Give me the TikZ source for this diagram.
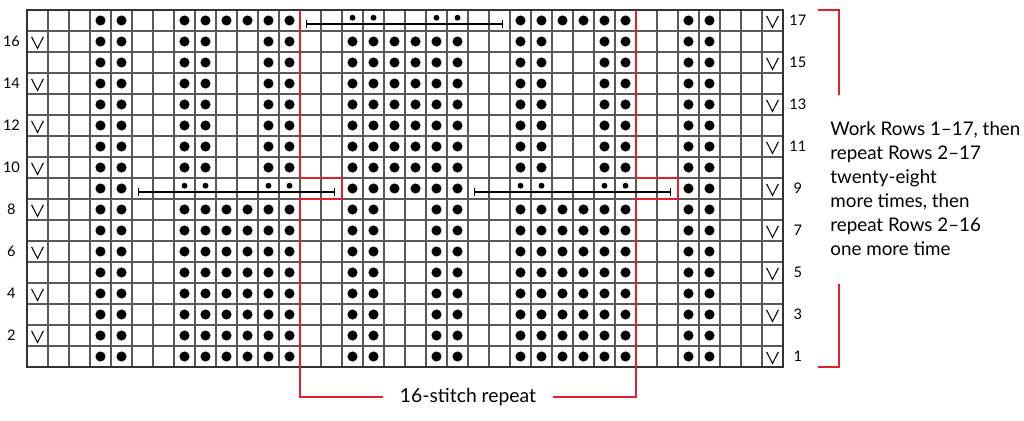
\documentclass[tikz,border=0pt]{standalone}
\usepackage{fontspec}
\setmainfont{Lato}
\usetikzlibrary{arrows.meta, positioning}
\usepackage{xcolor}
\definecolor{repred}{RGB}{218,37,48}

\begin{document}
\begin{tikzpicture}[x=0.42cm, y=0.42cm,
    gridline/.style={draw=black!65, line width=0.6pt},
    border/.style={draw=black!80, line width=1.1pt},
    bigdot/.style={fill=black},
    float/.style={line width=0.6pt, {Bar[width=1.6mm]}-{Bar[width=1.6mm]}},
    slip/.style={line width=0.6pt},
    redline/.style={draw=repred, line width=1.3pt},
    rownum/.style={font=\fontsize{8.3}{9}\selectfont, inner sep=0pt}]
  \useasboundingbox (-1.2857,-2.5238) rectangle (47.476,17.476);
  \draw[gridline, step={(1,1)}] (0,0) grid (36,17);
  \draw[border] (0,0) rectangle (36,17);
  % purl columns at both edges
  \foreach \c in {4,5,32,33}
    \foreach \r in {1,...,17}
      \fill[bigdot] (\c-0.5,\r-0.5) circle (0.24);
  % outer blocks
  \foreach \b in {8,24} {
    \foreach \d in {0,1,4,5} {
      \foreach \r in {1,...,8,10,11,...,17}
        \fill[bigdot] (\b+\d-0.5,\r-0.5) circle (0.24);
      \fill[bigdot] (\b+\d-0.5,8.633) circle (0.14);
    }
    \foreach \d in {2,3}
      \foreach \r in {1,...,8,17}
        \fill[bigdot] (\b+\d-0.5,\r-0.5) circle (0.24);
  }
  % middle block
  \foreach \d in {0,1,4,5} {
    \foreach \r in {1,...,16}
      \fill[bigdot] (16+\d-0.5,\r-0.5) circle (0.24);
    \fill[bigdot] (16+\d-0.5,16.633) circle (0.14);
  }
  \foreach \d in {2,3}
    \foreach \r in {9,...,16}
      \fill[bigdot] (16+\d-0.5,\r-0.5) circle (0.24);
  % floats
  \draw[float] (5.286,8.333) -- (14.667,8.333);
  \draw[float] (21.286,8.333) -- (30.667,8.333);
  \draw[float] (13.286,16.333) -- (22.667,16.333);
  % slipped stitches and row numbers
  \foreach \r in {2,4,...,16} {
    \draw[slip] (0.22,\r-0.28) -- (0.5,\r-0.83) -- (0.78,\r-0.28);
    \node[rownum] (l\r) at (-0.74,\r-0.5) {\r};
  }
  \foreach \r in {1,3,...,17} {
    \draw[slip] (35.22,\r-0.28) -- (35.5,\r-0.83) -- (35.78,\r-0.28);
    \node[rownum] (r\r) at (36.71,\r-0.5) {\r};
  }
  % repeat outline
  \node[font=\fontsize{11}{13}\selectfont, inner xsep=0.34cm, inner ysep=0pt] (rep) at (21,-1.414) {16-stitch repeat};
  \draw[redline] (rep.west) -- (13,-1.414) -- (13,8) -- (15,8) -- (15,9) -- (13,9) -- (13,17);
  \draw[redline] (rep.east) -- (29,-1.414) -- (29,8) -- (31,8) -- (31,9) -- (29,9) -- (29,17);
  % note and bracket
  \node[anchor=west, inner sep=0pt, align=left, font=\fontsize{10.7}{13.7}\selectfont] (note) at (38.24,8.48)
    {Work Rows 1--17, then\\repeat Rows 2--17\\twenty-eight\\more times, then\\repeat Rows 2--16\\one more time};
  \draw[redline] (37.67,17) -- (38.67,17) -- (38.67,12.95);
  \draw[redline] (38.67,3.95) -- (38.67,0) -- (37.67,0);
\end{tikzpicture}
\end{document}
